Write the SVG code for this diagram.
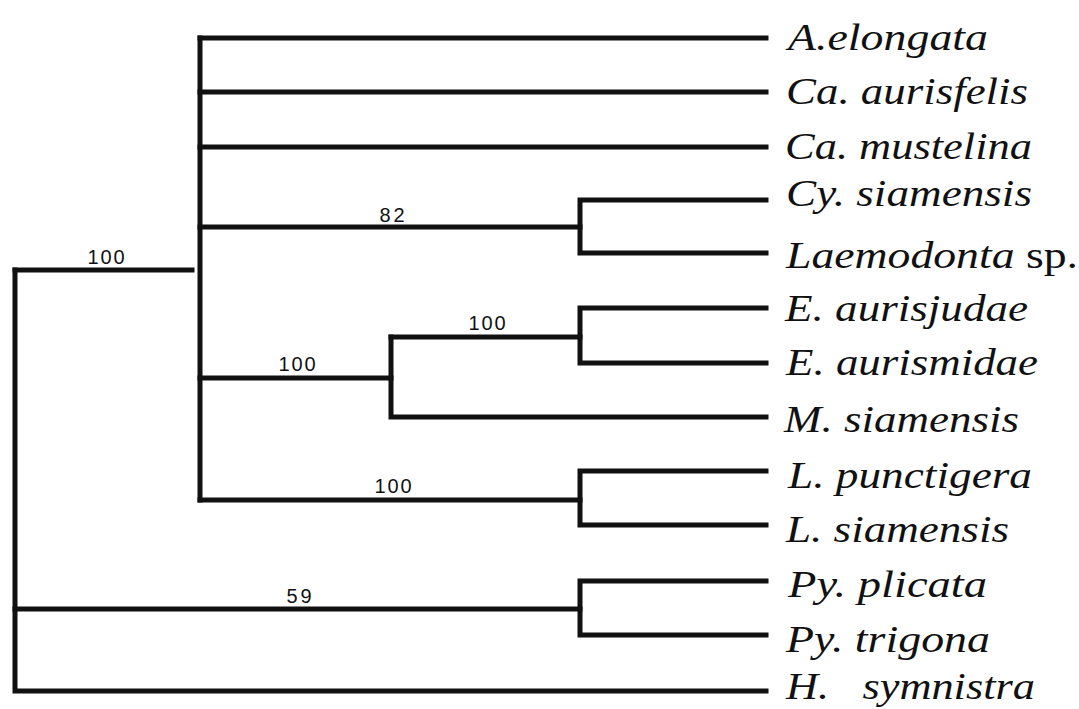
<svg xmlns="http://www.w3.org/2000/svg" width="1079" height="709" viewBox="0 0 1079 709">
<style>
.br{fill:none;stroke:#111;stroke-width:5;stroke-linecap:square;stroke-linejoin:miter}
.tx{font-family:"Liberation Serif","Times New Roman",serif;font-style:italic;font-size:37px;fill:#111}
.rm{font-style:normal}
.sv{font-family:"Liberation Sans",Arial,sans-serif;font-size:20px;fill:#111;text-anchor:middle}
</style>
<rect width="1079" height="709" fill="#fff"/>
<g id="connectors">
<path class="br" d="M15,270 H192"/>
<path class="br" d="M15,270 V691 H766"/>
<path class="br" d="M15,609 H580"/>
<path class="br" d="M200,38 V500"/>
<path class="br" d="M200,38 H766"/>
<path class="br" d="M200,92 H766"/>
<path class="br" d="M200,147 H766"/>
<path class="br" d="M200,227 H580"/>
<path class="br" d="M766,200 H580 V253 H766"/>
<path class="br" d="M200,378 H391"/>
<path class="br" d="M391,337 V417 H766"/>
<path class="br" d="M391,337 H580"/>
<path class="br" d="M766,308 H580 V363 H766"/>
<path class="br" d="M200,500 H580"/>
<path class="br" d="M766,471 H580 V525 H766"/>
<path class="br" d="M766,581 H580 V635 H766"/>
</g>
<g id="support">
<text class="sv" x="106" y="264" textLength="37">100</text>
<text class="sv" x="392" y="222" textLength="25">82</text>
<text class="sv" x="297" y="371" textLength="37">100</text>
<text class="sv" x="487" y="330" textLength="37">100</text>
<text class="sv" x="393" y="493" textLength="37">100</text>
<text class="sv" x="299" y="603" textLength="25">59</text>
</g>
<g id="leaf-a-elongata"><text class="tx" x="788" y="50" textLength="200" lengthAdjust="spacingAndGlyphs">A.elongata</text></g>
<g id="leaf-ca-aurisfelis"><text class="tx" x="786" y="104" textLength="242" lengthAdjust="spacingAndGlyphs">Ca. aurisfelis</text></g>
<g id="leaf-ca-mustelina"><text class="tx" x="785" y="159" textLength="247" lengthAdjust="spacingAndGlyphs">Ca. mustelina</text></g>
<g id="leaf-cy-siamensis"><text class="tx" x="786" y="206" textLength="246" lengthAdjust="spacingAndGlyphs">Cy. siamensis</text></g>
<g id="leaf-laemodonta"><text class="tx" x="786" y="268" textLength="292" lengthAdjust="spacingAndGlyphs">Laemodonta<tspan class="rm"> sp.</tspan></text></g>
<g id="leaf-e-aurisjudae"><text class="tx" x="785" y="321" textLength="243" lengthAdjust="spacingAndGlyphs">E. aurisjudae</text></g>
<g id="leaf-e-aurismidae"><text class="tx" x="786" y="375" textLength="252" lengthAdjust="spacingAndGlyphs">E. aurismidae</text></g>
<g id="leaf-m-siamensis"><text class="tx" x="784" y="432" textLength="235" lengthAdjust="spacingAndGlyphs">M. siamensis</text></g>
<g id="leaf-l-punctigera"><text class="tx" x="788" y="488" textLength="244" lengthAdjust="spacingAndGlyphs">L. punctigera</text></g>
<g id="leaf-l-siamensis"><text class="tx" x="786" y="542" textLength="223" lengthAdjust="spacingAndGlyphs">L. siamensis</text></g>
<g id="leaf-py-plicata"><text class="tx" x="788" y="597" textLength="199" lengthAdjust="spacingAndGlyphs">Py. plicata</text></g>
<g id="leaf-py-trigona"><text class="tx" x="786" y="652" textLength="204" lengthAdjust="spacingAndGlyphs">Py. trigona</text></g>
<g id="leaf-h-symnistra"><text class="tx" x="786" y="699" textLength="249" lengthAdjust="spacingAndGlyphs" xml:space="preserve">H.   symnistra</text></g>
</svg>
